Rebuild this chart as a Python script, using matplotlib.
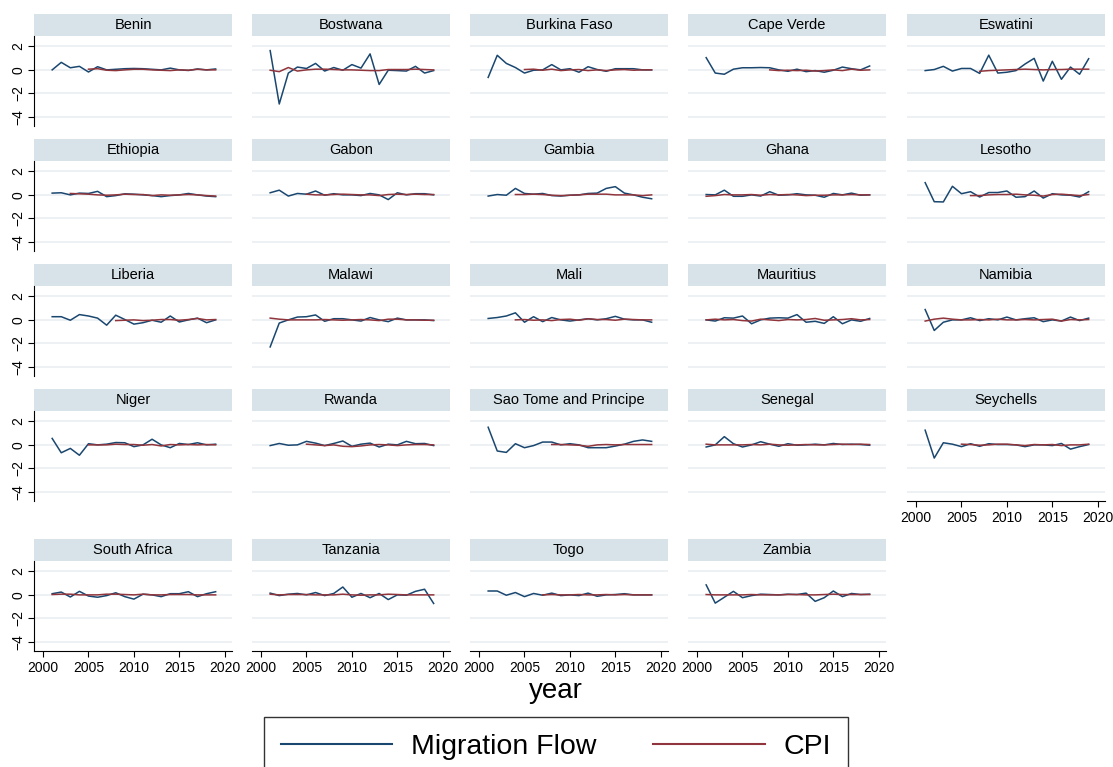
import matplotlib
matplotlib.use("Agg")
import matplotlib.pyplot as plt
from matplotlib.lines import Line2D
from matplotlib.patches import Rectangle

plt.rcParams["font.family"] = ["Liberation Sans", "DejaVu Sans"]

countries = [
    "Benin", "Bostwana", "Burkina Faso", "Cape Verde", "Eswatini",
    "Ethiopia", "Gabon", "Gambia", "Ghana", "Lesotho",
    "Liberia", "Malawi", "Mali", "Mauritius", "Namibia",
    "Niger", "Rwanda", "Sao Tome and Principe", "Senegal", "Seychells",
    "South Africa", "Tanzania", "Togo", "Zambia",
]

years = list(range(2001, 2020))

# Migration flow, 2001-2019, one row per country (same order as countries)
migration_flow = [
    [0.0, 0.64, 0.18, 0.3, -0.18, 0.27, 0.0, 0.05, 0.1, 0.12, 0.1, 0.05, 0.0, 0.15, 0.0, -0.05, 0.08, 0.0, 0.08],
    [1.64, -2.9, -0.27, 0.24, 0.12, 0.55, -0.1, 0.2, -0.03, 0.45, 0.15, 1.36, -1.24, -0.03, -0.06, -0.1, 0.3, -0.27, -0.06],
    [-0.64, 1.24, 0.55, 0.2, -0.27, -0.03, 0.0, 0.45, 0.0, 0.1, -0.2, 0.27, 0.03, -0.12, 0.1, 0.1, 0.1, 0.0, 0.0],
    [1.04, -0.27, -0.37, 0.06, 0.18, 0.18, 0.2, 0.18, 0.0, -0.12, 0.06, -0.15, -0.06, -0.2, -0.03, 0.24, 0.1, 0.0, 0.33],
    [-0.06, 0.03, 0.3, -0.1, 0.12, 0.12, -0.3, 1.25, -0.27, -0.2, -0.06, 0.5, 0.98, -0.95, 0.73, -0.8, 0.24, -0.37, 0.95],
    [0.15, 0.18, 0.0, 0.15, 0.12, 0.3, -0.15, -0.06, 0.09, 0.06, 0.0, -0.06, -0.15, -0.06, 0.0, 0.12, 0.0, -0.1, -0.15],
    [0.18, 0.4, -0.1, 0.12, 0.06, 0.33, -0.03, 0.1, 0.0, 0.0, -0.06, 0.12, 0.0, -0.4, 0.18, 0.0, 0.1, 0.1, 0.0],
    [-0.1, 0.03, -0.03, 0.55, 0.12, 0.06, 0.12, -0.06, -0.1, -0.03, 0.0, 0.12, 0.15, 0.55, 0.7, 0.15, 0.0, -0.2, -0.33],
    [0.03, 0.0, 0.4, -0.12, -0.12, 0.0, -0.1, 0.27, -0.03, 0.0, 0.1, 0.0, -0.03, -0.2, 0.12, 0.0, 0.15, -0.03, 0.0],
    [1.04, -0.58, -0.6, 0.73, 0.1, 0.27, -0.18, 0.2, 0.2, 0.33, -0.2, -0.15, 0.33, -0.27, 0.1, 0.0, -0.03, -0.18, 0.27],
    [0.27, 0.27, -0.03, 0.45, 0.33, 0.15, -0.45, 0.4, 0.03, -0.36, -0.24, -0.03, -0.2, 0.33, -0.18, 0.0, 0.15, -0.24, 0.0],
    [-2.3, -0.27, 0.0, 0.24, 0.27, 0.42, -0.12, 0.1, 0.1, 0.0, -0.1, 0.2, 0.0, -0.15, 0.15, 0.0, 0.0, 0.0, -0.06],
    [0.12, 0.2, 0.33, 0.6, -0.2, 0.27, -0.15, 0.2, 0.0, -0.1, 0.0, 0.1, 0.0, 0.1, 0.3, 0.06, 0.0, 0.0, -0.2],
    [0.0, -0.1, 0.18, 0.15, 0.33, -0.33, 0.0, 0.15, 0.18, 0.15, 0.45, -0.2, -0.12, -0.3, 0.27, -0.33, 0.0, -0.12, 0.12],
    [0.88, -0.9, -0.2, 0.0, 0.0, 0.18, -0.06, 0.1, 0.0, 0.24, 0.0, 0.1, 0.18, -0.15, 0.0, -0.1, 0.24, -0.06, 0.15],
    [0.55, -0.67, -0.3, -0.88, 0.1, 0.0, 0.06, 0.2, 0.18, -0.15, 0.0, 0.48, 0.0, -0.24, 0.12, 0.03, 0.18, 0.0, 0.06],
    [-0.06, 0.12, -0.03, 0.0, 0.3, 0.15, -0.06, 0.12, 0.33, -0.12, 0.06, 0.15, -0.18, 0.06, 0.0, 0.3, 0.1, 0.12, -0.06],
    [1.5, -0.52, -0.64, 0.1, -0.24, -0.06, 0.24, 0.24, 0.0, 0.1, 0.0, -0.24, -0.24, -0.24, -0.1, 0.06, 0.3, 0.42, 0.3],
    [-0.18, 0.0, 0.7, 0.1, -0.18, 0.0, 0.27, 0.06, -0.12, 0.1, -0.03, 0.0, 0.06, 0.0, 0.12, 0.03, 0.06, 0.03, -0.03],
    [1.25, -1.12, 0.18, 0.06, -0.15, 0.1, -0.12, 0.1, 0.03, 0.03, 0.0, -0.15, 0.0, 0.0, -0.06, 0.12, -0.36, -0.15, 0.03],
    [0.1, 0.24, -0.18, 0.3, -0.1, -0.2, -0.06, 0.18, -0.15, -0.36, 0.06, 0.0, -0.15, 0.1, 0.1, 0.27, -0.15, 0.1, 0.27],
    [0.15, -0.06, 0.06, 0.12, 0.0, 0.2, -0.06, 0.12, 0.67, -0.2, 0.12, -0.24, 0.12, -0.4, 0.0, -0.03, 0.3, 0.48, -0.73],
    [0.33, 0.33, -0.03, 0.2, -0.15, 0.12, -0.03, 0.15, -0.06, 0.0, -0.06, 0.15, -0.12, 0.0, 0.03, 0.1, 0.0, 0.0, 0.0],
    [0.85, -0.7, -0.2, 0.3, -0.24, -0.06, 0.06, 0.03, 0.0, 0.06, 0.03, 0.15, -0.55, -0.24, 0.33, -0.15, 0.12, 0.03, 0.06],
]

# First year with CPI data for each country; CPI runs from there to 2019
cpi_start = [
    2005, 2001, 2005, 2008, 2007,
    2003, 2005, 2004, 2001, 2006,
    2008, 2001, 2004, 2001, 2001,
    2005, 2005, 2008, 2001, 2005,
    2001, 2001, 2007, 2001,
]

cpi = [
    [0.06, 0.1, -0.03, -0.06, 0.0, 0.05, 0.05, 0.0, -0.03, -0.06, 0.0, -0.03, 0.05, 0.0, 0.0],
    [-0.03, -0.15, 0.2, -0.1, 0.0, 0.06, 0.06, 0.03, 0.0, 0.0, -0.03, -0.06, -0.06, 0.03, 0.03, 0.03, 0.06, 0.03, 0.0],
    [0.03, 0.06, -0.03, 0.06, -0.06, 0.0, 0.03, -0.06, 0.0, -0.06, 0.0, 0.03, -0.03, 0.0, 0.0],
    [0.0, -0.06, -0.03, -0.06, -0.03, -0.1, -0.06, 0.0, -0.06, 0.06, -0.03, 0.0],
    [-0.12, -0.06, -0.03, 0.0, 0.03, 0.06, 0.03, 0.0, 0.03, 0.03, 0.06, 0.06, 0.06],
    [0.12, 0.09, 0.06, 0.0, -0.03, 0.0, 0.06, 0.03, 0.03, -0.06, 0.0, -0.03, 0.0, 0.03, 0.0, -0.06, -0.1],
    [0.06, 0.0, 0.0, 0.03, 0.06, 0.03, 0.0, 0.0, -0.06, 0.03, 0.06, 0.03, 0.06, 0.03, 0.03],
    [0.03, 0.03, 0.06, 0.03, -0.03, -0.06, -0.03, 0.0, 0.06, 0.06, 0.06, 0.0, 0.0, 0.0, -0.06, 0.0],
    [-0.12, -0.06, 0.03, 0.0, 0.0, 0.03, -0.03, 0.03, 0.0, 0.03, 0.0, -0.06, -0.03, -0.03, 0.0, 0.0, 0.03, 0.0, 0.0],
    [-0.06, -0.06, 0.0, 0.03, 0.03, 0.06, 0.0, -0.03, -0.1, 0.03, 0.06, 0.0, -0.06, 0.03],
    [-0.06, -0.03, 0.0, -0.06, -0.03, 0.03, 0.03, -0.03, 0.03, 0.12, 0.0, 0.03],
    [0.15, 0.06, 0.0, 0.0, 0.0, 0.0, 0.03, 0.0, -0.03, 0.0, 0.03, 0.0, -0.06, 0.06, 0.06, 0.0, 0.0, -0.03, -0.03],
    [0.0, 0.03, -0.03, 0.0, -0.06, 0.03, 0.06, -0.03, 0.09, 0.03, 0.03, -0.03, 0.06, 0.03, 0.0, 0.0],
    [0.0, 0.06, 0.0, 0.03, -0.06, -0.1, 0.06, 0.0, -0.06, 0.03, 0.0, 0.03, 0.12, -0.03, 0.0, 0.03, 0.1, 0.0, 0.03],
    [-0.1, 0.06, 0.15, 0.06, 0.0, 0.0, 0.03, 0.0, 0.06, 0.0, 0.0, 0.03, 0.0, 0.03, 0.06, -0.1, 0.03, 0.0, 0.03],
    [0.0, 0.0, 0.0, 0.06, 0.03, 0.03, -0.03, 0.03, -0.09, 0.03, 0.0, 0.03, 0.0, 0.03, 0.0],
    [0.06, 0.0, -0.06, 0.0, -0.12, -0.15, -0.09, 0.0, 0.03, 0.0, -0.06, 0.0, 0.03, 0.03, 0.0],
    [0.03, 0.03, 0.0, -0.03, -0.12, 0.0, 0.03, 0.0, 0.03, 0.03, 0.03, 0.03],
    [0.06, 0.0, 0.0, 0.0, 0.0, 0.03, 0.0, 0.06, 0.0, -0.03, 0.0, 0.03, 0.0, 0.0, 0.03, 0.06, 0.03, 0.06, 0.03],
    [0.06, 0.03, -0.03, 0.0, 0.06, 0.06, 0.0, -0.06, 0.03, 0.0, 0.03, -0.06, 0.0, 0.0, 0.06],
    [0.03, 0.06, 0.06, 0.0, 0.0, 0.0, 0.06, 0.06, 0.03, 0.0, 0.06, 0.0, 0.0, 0.03, 0.03, 0.03, 0.0, 0.0, 0.0],
    [0.06, 0.0, 0.03, 0.03, 0.03, 0.0, 0.0, 0.0, 0.06, 0.0, -0.03, 0.0, 0.0, 0.06, 0.03, 0.0, 0.0, 0.0, 0.0],
    [0.0, 0.03, 0.0, 0.0, 0.03, 0.0, 0.0, 0.03, 0.0, 0.03, 0.0, 0.0, 0.0],
    [0.03, 0.0, 0.0, 0.0, 0.0, 0.03, 0.0, 0.0, 0.0, 0.03, 0.03, 0.0, 0.0, 0.03, 0.06, 0.03, 0.03, 0.03, 0.03],
]

y_ticks = [-4, -2, 0, 2]
x_ticks = [2000, 2005, 2010, 2015, 2020]

NAVY = "#1a476f"
MAROON = "#90353b"
STRIP = "#d7e3e9"
GRID = "#ebeff2"

# layout in pixels (figure is 1113 x 767)
W, H = 1113, 767
COL_LEFT = [34, 252, 470, 688, 907]
ROW_TOP = [14, 139, 264, 389, 539]
PANEL_W = 198
STRIP_H = 22
PLOT_H = 90


def draw_panel(fig, idx):
    """Draws one country panel: the strip title, the migration
    flow line and the CPI line."""
    row, col = divmod(idx, 5)
    left = COL_LEFT[col] / W
    bottom = 1 - (ROW_TOP[row] + STRIP_H + PLOT_H) / H
    ax = fig.add_axes([left, bottom, PANEL_W / W, PLOT_H / H])

    ax.plot(years, migration_flow[idx], color=NAVY, lw=1.1, zorder=3)
    cpi_years = list(range(cpi_start[idx], cpi_start[idx] + len(cpi[idx])))
    ax.plot(cpi_years, cpi[idx], color=MAROON, lw=1.1, zorder=4)

    ax.set_xlim(1999.0, 2020.8)
    ax.set_ylim(-4.77, 2.88)
    ax.set_yticks(y_ticks)
    ax.set_xticks(x_ticks)
    ax.grid(axis="y", color=GRID, lw=1.2)
    ax.set_axisbelow(True)

    for side in ["top", "right", "left", "bottom"]:
        ax.spines[side].set_visible(False)

    # strip with country name
    ax.add_patch(Rectangle((0, 1), 1, STRIP_H / PLOT_H, transform=ax.transAxes,
                           facecolor=STRIP, edgecolor="none", clip_on=False))
    ax.text(0.5, 1 + STRIP_H / PLOT_H / 2, countries[idx], transform=ax.transAxes,
            ha="center", va="center", fontsize=10.5)

    show_y = col == 0
    show_x = row == 4 or countries[idx] == "Seychells"

    ax.tick_params(axis="y", left=show_y, labelleft=show_y, length=4,
                   width=0.8, labelsize=10, pad=2)
    ax.tick_params(axis="x", bottom=show_x, labelbottom=show_x, length=4,
                   width=0.8, labelsize=10, pad=3)
    if show_y:
        ax.spines["left"].set_visible(True)
        ax.spines["left"].set_linewidth(0.8)
        for lbl in ax.get_yticklabels():
            lbl.set_rotation(90)
            lbl.set_va("center")
    if show_x:
        ax.spines["bottom"].set_visible(True)
        ax.spines["bottom"].set_linewidth(0.8)
    return ax


def main():
    fig = plt.figure(figsize=(W / 100, H / 100), dpi=100)

    for idx in range(len(countries)):
        draw_panel(fig, idx)

    fig.text(556 / W, 1 - 698 / H, "year", ha="center", va="baseline", fontsize=20)

    handles = [Line2D([], [], color=NAVY, lw=1.5),
               Line2D([], [], color=MAROON, lw=1.5)]
    leg = fig.legend(handles, ["Migration Flow", "CPI"], loc="upper center",
                     bbox_to_anchor=(556 / W, 1 - 717 / H), borderaxespad=0,
                     ncol=2, fontsize=20.5, frameon=True, fancybox=False,
                     handlelength=3.9, handletextpad=0.66, columnspacing=2.0,
                     borderpad=0.6)
    leg.get_frame().set_edgecolor("black")
    leg.get_frame().set_linewidth(1.0)

    fig.savefig("out.png", dpi=100)


if __name__ == "__main__":
    main()
